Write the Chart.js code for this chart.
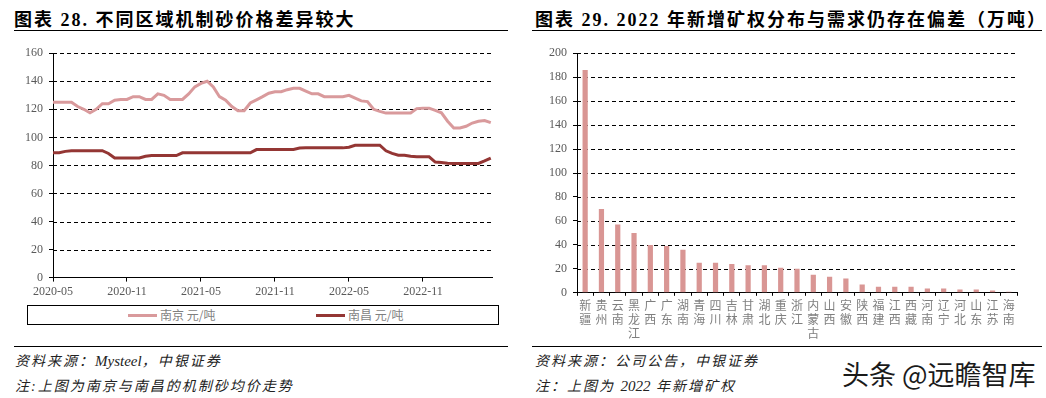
<!DOCTYPE html>
<html>
<head>
<meta charset="utf-8">
<script src="https://cdn.jsdelivr.net/npm/chart.js@4"></script>
<style>
  body { margin: 0; background: #fff; }
  #page { position: relative; width: 1046px; height: 398px; overflow: hidden; background: #fff; }
  .title { position: absolute; top: 5px; font-family: 'Liberation Serif', 'Noto Sans CJK SC', serif; font-weight: bold; font-size: 18px; letter-spacing: 2px; color: #000; white-space: nowrap; }
  .rule { position: absolute; height: 0; border-top: 1.5px solid #000; }
  .note { position: absolute; font-family: 'Liberation Serif', 'Noto Sans CJK SC', serif; font-style: italic; font-size: 14px; letter-spacing: 2px; color: #222; white-space: nowrap; }
  .note .lat { letter-spacing: 0; font-size: 15px; }
  .legend-box { position: absolute; left: 27px; top: 305px; width: 470px; height: 18px; border: 1.5px solid #000; }
  .legend-item { position: absolute; top: 0; height: 18px; line-height: 18px; font-family: 'Noto Sans CJK SC', sans-serif; font-size: 12px; color: #7f7f7f; white-space: nowrap; }
  .legend-item i { display: inline-block; width: 29px; height: 3px; vertical-align: middle; margin-right: 3px; position: relative; top: -1px; }
  .mark { position: absolute; left: 842px; top: 354px; font-family: 'Noto Sans CJK SC', sans-serif; font-size: 27px; color: #1a1a1a; white-space: nowrap; }
  canvas { position: absolute; }
</style>
</head>
<body>
<div id="page">
  <div class="title" style="left:14px;">图表 28. 不同区域机制砂价格差异较大</div>
  <div class="rule" style="left:14px; top:30px; width:494px;"></div>
  <div class="title" style="left:535px;">图表 29. 2022 年新增矿权分布与需求仍存在偏差（万吨）</div>
  <div class="rule" style="left:532px; top:30px; width:510px;"></div>

  <canvas id="priceChart" style="left:0; top:40px;" width="510" height="262"></canvas>
  <div class="legend-box" id="priceLegend"></div>
  <canvas id="mineChart" style="left:525px; top:40px;" width="521" height="303"></canvas>

  <div class="rule" style="left:14px; top:346px; width:494px;"></div>
  <div class="rule" style="left:532px; top:346px; width:510px;"></div>
  <div class="note" style="left:15px; top:350px;">资料来源：<span class="lat">Mysteel</span>，中银证券</div>
  <div class="note" style="left:15px; top:375px;">注:上图为南京与南昌的机制砂均价走势</div>
  <div class="note" style="left:535px; top:350px;">资料来源：公司公告，中银证券</div>
  <div class="note" style="left:535px; top:375px;">注：上图为 <span class="lat">2022</span> 年新增矿权</div>
  <div class="mark">头条 @远瞻智库</div>
</div>

<script>
// left chart: half-monthly readings starting 2020-05
const priceTickLabels = ['2020-05', '2020-11', '2021-05', '2021-11', '2022-05', '2022-11'];
const nanjingPrice = [
    125, 125, 125, 125, 122, 120, 117.5, 120, 124, 124, 126.5, 127,
    127, 129, 129, 127, 127, 131, 130, 127, 127, 127, 131, 136,
    138.5, 140, 136, 129, 126.5, 122, 119, 119, 124.5, 126.7, 129, 131.5,
    132.5, 132.5, 134, 135, 135, 133, 131, 131, 129, 129, 129, 129,
    130, 128, 126, 125.5, 120, 118.5, 117.3, 117.3, 117.3, 117.3, 117.3, 120.5,
    120.8, 120.8, 119.2, 117.5, 111.5, 106.7, 106.7, 107.9, 110.2, 111.5, 112, 110.5
];
const nanchangPrice = [
    89, 89, 90, 90.5, 90.5, 90.5, 90.5, 90.5, 90.5, 88.5, 85.3, 85.3,
    85.3, 85.3, 85.3, 86.5, 87, 87, 87, 87, 87, 89, 89, 89,
    89, 89, 89, 89, 89, 89, 89, 89, 89, 91.3, 91.3, 91.3,
    91.3, 91.3, 91.3, 91.3, 92.4, 92.5, 92.5, 92.5, 92.5, 92.5, 92.5, 92.5,
    93, 94.4, 94.4, 94.4, 94.4, 94.4, 90.4, 88.6, 87.3, 87.3, 86.5, 86.1,
    86.1, 86.1, 82.4, 82, 81.5, 81.4, 81.4, 81.4, 81.4, 81.4, 83.2, 85.2
];

// right chart
const provinces = ['新疆', '贵州', '云南', '黑龙江', '广西', '广东', '湖南', '青海', '四川', '吉林', '甘肃', '湖北', '重庆', '浙江',
    '内蒙古', '山西', '安徽', '陕西', '福建', '江西', '西藏', '河南', '辽宁', '河北', '山东', '江苏', '海南'];
const newCapacity = [186, 70, 57, 50, 40, 39, 36, 25, 25, 24, 23, 23, 21, 20,
    15, 13.5, 12, 7, 5, 5, 5, 3.6, 3.6, 2.8, 2.8, 2, 0.8];

const serif = "'Liberation Serif', 'Noto Sans CJK SC', serif";
Chart.defaults.font.family = serif;
Chart.defaults.color = '#595959';
Chart.defaults.animation = false;

// dashed horizontal grid lines, drawn along the y scale's own ticks
const dashedGridPlugin = {
    id: 'dashedGrid',
    beforeDatasetsDraw(chart) {
        const { ctx, chartArea, scales } = chart;
        const y = scales.y;
        ctx.save();
        ctx.strokeStyle = '#000';
        ctx.lineWidth = 1;
        ctx.setLineDash([4, 3]);
        y.ticks.forEach(t => {
            if (t.value === y.min) return;
            const py = Math.round(y.getPixelForValue(t.value)) + 0.5;
            ctx.beginPath();
            ctx.moveTo(chartArea.left, py);
            ctx.lineTo(chartArea.right, py);
            ctx.stroke();
        });
        ctx.restore();
    }
};

function toPoints(values) {
    return values.map((v, i) => ({ x: i * 0.5, y: v }));
}

// legend sits in a framed box under the axis, like the original
function buildLegend(chart) {
    const box = document.getElementById('priceLegend');
    const lefts = [100, 288];
    chart.data.datasets.forEach((ds, i) => {
        const item = document.createElement('div');
        item.className = 'legend-item';
        item.style.left = lefts[i] + 'px';
        item.innerHTML = `<i style="background:${ds.borderColor}"></i>${ds.label}`;
        box.appendChild(item);
    });
}

function drawPriceChart() {
    const ctx = document.getElementById('priceChart').getContext('2d');
    const chart = new Chart(ctx, {
        type: 'line',
        data: {
            datasets: [{
                label: '南京 元/吨',
                data: toPoints(nanjingPrice),
                borderColor: '#d99a9c',
                borderWidth: 3,
                pointRadius: 0,
                fill: false
            }, {
                label: '南昌 元/吨',
                data: toPoints(nanchangPrice),
                borderColor: '#943634',
                borderWidth: 3,
                pointRadius: 0,
                fill: false
            }]
        },
        options: {
            responsive: false,
            layout: { padding: { top: 6, right: 18, left: 0, bottom: 0 } },
            plugins: {
                tooltip: { enabled: false },
                legend: { display: false }
            },
            scales: {
                x: {
                    type: 'linear',
                    min: 0,
                    max: 35.6,
                    afterBuildTicks: scale => {
                        scale.ticks = priceTickLabels.map((_, i) => ({ value: i * 6 }));
                    },
                    ticks: {
                        callback: value => priceTickLabels[Math.round(value / 6)],
                        font: { size: 12 },
                        maxRotation: 0,
                        padding: 3
                    },
                    grid: { drawOnChartArea: false, tickColor: '#000', tickLength: 4 },
                    border: { color: '#000', width: 1 }
                },
                y: {
                    min: 0,
                    max: 160,
                    ticks: { stepSize: 20, font: { size: 12 }, padding: 6 },
                    grid: { drawOnChartArea: false, tickColor: '#000', tickLength: 4 },
                    border: { color: '#000', width: 1 },
                    afterFit: scale => { scale.width = 53; }
                }
            }
        },
        plugins: [dashedGridPlugin]
    });
    buildLegend(chart);
}

function drawMineChart() {
    const ctx = document.getElementById('mineChart').getContext('2d');
    new Chart(ctx, {
        type: 'bar',
        data: {
            labels: provinces.map(p => p.split('')), // stack characters vertically
            datasets: [{
                label: '新增矿权',
                data: newCapacity,
                backgroundColor: '#d99694',
                barPercentage: 0.32,
                categoryPercentage: 1
            }]
        },
        options: {
            responsive: false,
            layout: { padding: { top: 4, right: 29, left: 0, bottom: 0 } },
            plugins: {
                legend: { display: false },
                tooltip: { enabled: false }
            },
            scales: {
                x: {
                    ticks: {
                        autoSkip: false,
                        maxRotation: 0,
                        padding: 2,
                        font: { size: 12, family: "'Noto Sans CJK SC', sans-serif", lineHeight: 1.2 },
                        color: '#7f7f7f'
                    },
                    grid: { drawOnChartArea: false, tickColor: '#000', tickLength: 3 },
                    border: { color: '#000', width: 1 }
                },
                y: {
                    min: 0,
                    max: 200,
                    ticks: { stepSize: 20, font: { size: 12 }, padding: 6 },
                    grid: { drawOnChartArea: false, tickColor: '#000', tickLength: 4 },
                    border: { color: '#000', width: 1 },
                    afterFit: scale => { scale.width = 52; }
                }
            }
        },
        plugins: [dashedGridPlugin]
    });
}

drawPriceChart();
drawMineChart();
</script>
</body>
</html>
